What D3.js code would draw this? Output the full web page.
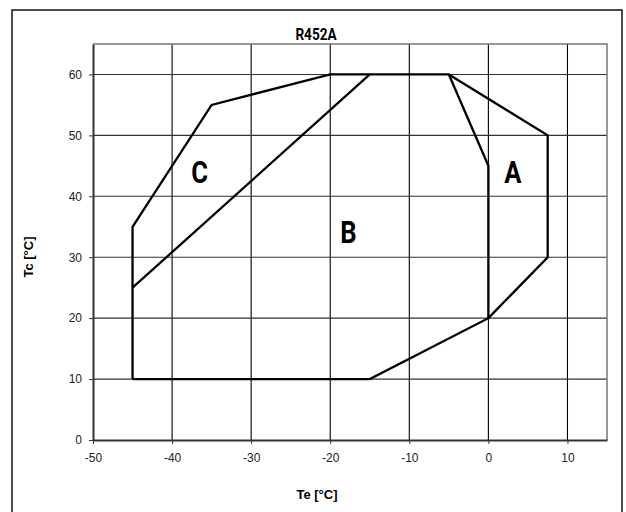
<!DOCTYPE html>
<html>
<head>
<meta charset="utf-8">
<script src="https://cdn.jsdelivr.net/npm/d3@7"></script>
<style>
  body { margin: 0; background: #fff; }
  svg { display: block; }
</style>
</head>
<body>
<script>
// Envelope data, Te / Tc in degC
const title = "R452A";
const envelopeBC = [[-45, 10], [-15, 10], [0, 20], [0, 45], [-5, 60], [-20, 60], [-35, 55], [-45, 35], [-45, 10]];
const splitBC = [[-45, 25], [-15, 60]];
const envelopeA = [[-5, 60], [7.5, 50], [7.5, 30], [0, 20]];
const regionLabels = ["C", "B", "A"];
const regionTe = [-36.5, -17.7, 3.1];
const regionTc = [44, 34.2, 44];
const xTicks = [-50, -40, -30, -20, -10, 0, 10];
const yTicks = [0, 10, 20, 30, 40, 50, 60];

const width = 626, height = 512;
const margin = { top: 44, right: 19, bottom: 72, left: 93 };
const innerW = width - margin.left - margin.right;
const innerH = height - margin.top - margin.bottom;

const sansFont = "'Liberation Sans', Arial, sans-serif";
const condFont = "Roboto, 'Noto Sans', sans-serif";

const svg = d3.select("body").append("svg")
    .attr("width", width)
    .attr("height", height);

// outer frame
svg.append("rect")
    .attr("x", 12).attr("y", 10)
    .attr("width", 610).attr("height", 520)
    .attr("fill", "none")
    .attr("stroke", "#111")
    .attr("stroke-width", 1.5);

const g = svg.append("g")
    .attr("transform", `translate(${margin.left},${margin.top})`);

const x = d3.scaleLinear().domain([-50, 15]).range([0, innerW]);
const y = d3.scaleLinear().domain([0, 65]).range([innerH, 0]);

// grid
g.append("g")
    .selectAll("line")
    .data(xTicks.slice(1))
    .enter().append("line")
    .attr("x1", d => x(d)).attr("x2", d => x(d))
    .attr("y1", 0).attr("y2", innerH)
    .attr("stroke", "#000")
    .attr("stroke-width", 1.1);

g.append("g")
    .selectAll("line")
    .data(yTicks.slice(1))
    .enter().append("line")
    .attr("x1", 0).attr("x2", innerW)
    .attr("y1", d => y(d)).attr("y2", d => y(d))
    .attr("stroke", "#333")
    .attr("stroke-width", 1.1);

// top and right border of plot area
g.append("path")
    .attr("d", `M0,0H${innerW}V${innerH}`)
    .attr("fill", "none")
    .attr("stroke", "#777")
    .attr("stroke-width", 1.5);

// axes
const xAxis = g.append("g")
    .attr("transform", `translate(0,${innerH})`)
    .call(d3.axisBottom(x).tickValues(xTicks).tickFormat(d => String(d))
        .tickSize(4).tickPadding(9).tickSizeOuter(0));

const yAxis = g.append("g")
    .call(d3.axisLeft(y).tickValues(yTicks).tickFormat(d => String(d))
        .tickSize(4).tickPadding(7).tickSizeOuter(0));

[xAxis, yAxis].forEach(a => {
    a.select(".domain").attr("stroke", "#333").attr("stroke-width", 2);
    a.selectAll(".tick line").attr("stroke", "#333").attr("stroke-width", 1);
    a.selectAll(".tick text")
        .attr("fill", "#222")
        .style("font-family", sansFont)
        .style("font-size", "12px");
});

// envelopes
const line = d3.line().x(d => x(d[0])).y(d => y(d[1]));

[envelopeBC, splitBC, envelopeA].forEach(pts => {
    g.append("path")
        .attr("d", line(pts))
        .attr("fill", "none")
        .attr("stroke", "#000")
        .attr("stroke-width", 2.3)
        .attr("stroke-linejoin", "miter");
});

// region letters (condensed look via horizontal scaling)
g.selectAll(".region")
    .data(regionLabels)
    .enter().append("text")
    .attr("class", "region")
    .attr("transform", (d, i) => `translate(${x(regionTe[i])},${y(regionTc[i])}) scale(0.8,1)`)
    .attr("dy", "0.36em")
    .attr("text-anchor", "middle")
    .style("font-family", condFont)
    .style("font-weight", "bold")
    .style("font-size", "32px")
    .text(d => d);

// title
svg.append("text")
    .attr("transform", "translate(316,40) scale(0.8,1)")
    .attr("text-anchor", "middle")
    .style("font-family", condFont)
    .style("font-weight", "bold")
    .style("font-size", "17px")
    .text(title);

// axis titles
svg.append("text")
    .attr("x", 317).attr("y", 499)
    .attr("text-anchor", "middle")
    .style("font-family", sansFont)
    .style("font-weight", "bold")
    .style("font-size", "13px")
    .text("Te [°C]");

svg.append("text")
    .attr("transform", "translate(33,257) rotate(-90)")
    .attr("text-anchor", "middle")
    .style("font-family", sansFont)
    .style("font-weight", "bold")
    .style("font-size", "13px")
    .text("Tc [°C]");
</script>
</body>
</html>
